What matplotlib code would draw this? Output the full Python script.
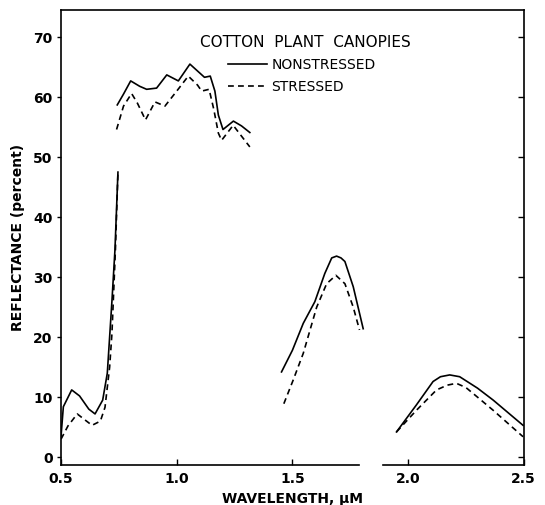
import matplotlib
matplotlib.use("Agg")
import matplotlib.pyplot as plt

# Visible band (0.5 - 0.75 um)
w_vis_ns = [0.50, 0.51, 0.546, 0.58, 0.62, 0.647, 0.68, 0.70, 0.72, 0.733, 0.746]
r_vis_ns = [3.5, 8.4, 11.2, 10.2, 8.0, 7.2, 9.5, 14.0, 26.0, 34.5, 47.5]
w_vis_s = [0.50, 0.53, 0.57, 0.60, 0.634, 0.67, 0.69, 0.71, 0.72, 0.735, 0.746]
r_vis_s = [3.0, 5.2, 7.2, 6.3, 5.3, 6.0, 8.3, 15.0, 20.6, 34.5, 47.5]

# Near-IR plateau (0.74 - 1.32 um)
w_nir_ns = [0.743, 0.77, 0.801, 0.84, 0.87, 0.913, 0.957, 1.007, 1.057, 1.10,
            1.12, 1.145, 1.165, 1.18, 1.20, 1.245, 1.28, 1.316]
r_nir_ns = [58.7, 60.5, 62.7, 61.8, 61.3, 61.5, 63.7, 62.7, 65.5, 64.0,
            63.3, 63.5, 61.0, 57.0, 54.6, 56.0, 55.2, 54.1]
w_nir_s = [0.740, 0.77, 0.805, 0.83, 0.865, 0.906, 0.949, 1.00, 1.05, 1.09,
           1.108, 1.14, 1.16, 1.18, 1.194, 1.244, 1.316]
r_nir_s = [54.6, 58.5, 60.6, 59.0, 56.2, 59.2, 58.5, 61.0, 63.5, 62.0,
           61.0, 61.3, 58.0, 54.0, 52.8, 55.3, 51.7]

# 1.45 - 1.8 um band
w_m1_ns = [1.453, 1.50, 1.547, 1.597, 1.64, 1.67, 1.691, 1.71, 1.727, 1.763, 1.806]
r_m1_ns = [14.2, 17.8, 22.3, 25.9, 30.6, 33.2, 33.5, 33.2, 32.6, 28.4, 21.4]
w_m1_s = [1.463, 1.503, 1.547, 1.605, 1.648, 1.688, 1.727, 1.763, 1.79]
r_m1_s = [8.9, 12.8, 17.3, 25.0, 28.9, 30.3, 28.9, 25.0, 21.2]

# 1.95 - 2.5 um band
w_m2_ns = [1.95, 2.036, 2.108, 2.14, 2.18, 2.223, 2.30, 2.368, 2.497]
r_m2_ns = [4.2, 8.7, 12.6, 13.4, 13.7, 13.4, 11.5, 9.5, 5.3]
w_m2_s = [1.95, 2.036, 2.123, 2.17, 2.209, 2.25, 2.30, 2.368, 2.497]
r_m2_s = [4.2, 7.8, 11.2, 12.0, 12.3, 11.6, 10.0, 7.8, 3.4]

nonstressed = [(w_vis_ns, r_vis_ns), (w_nir_ns, r_nir_ns), (w_m1_ns, r_m1_ns), (w_m2_ns, r_m2_ns)]
stressed = [(w_vis_s, r_vis_s), (w_nir_s, r_nir_s), (w_m1_s, r_m1_s), (w_m2_s, r_m2_s)]

x_ticks = [0.5, 1.0, 1.5, 2.0, 2.5]
x_tick_labels = ["0.5", "1.0", "1.5", "2.0", "2.5"]
y_ticks = [0, 10, 20, 30, 40, 50, 60, 70]
y_lim = (-1.33, 74.5)

plt.rcParams['font.family'] = ['DejaVu Sans']

fig = plt.figure(figsize=(5.45, 5.05), dpi=100)
ax = fig.add_axes([0.112, 0.079, 0.849, 0.901])

lw = 1.2
for i, (w, r) in enumerate(nonstressed):
    ax.plot(w, r, color='black', linewidth=lw, linestyle='-',
            label="NONSTRESSED" if i == 0 else None)
for i, (w, r) in enumerate(stressed):
    ax.plot(w, r, color='black', linewidth=lw, linestyle=(0, (3.5, 2.5)),
            label="STRESSED" if i == 0 else None)

ax.set_xlim(0.5, 2.5)
ax.set_ylim(*y_lim)

# broken bottom axis
ax.spines['bottom'].set_visible(False)
trans = ax.get_xaxis_transform()
ax.plot([0.5, 1.79], [0, 0], color='black', linewidth=1.2, transform=trans, clip_on=False)
ax.plot([1.89, 2.5], [0, 0], color='black', linewidth=1.2, transform=trans, clip_on=False)
for s in ['left', 'right', 'top']:
    ax.spines[s].set_linewidth(1.2)

ax.set_xticks(x_ticks)
ax.set_xticklabels(x_tick_labels, fontsize=10, fontweight='bold')
ax.set_yticks(y_ticks)
ax.set_yticklabels([str(v) for v in y_ticks], fontsize=10, fontweight='bold')
ax.tick_params(axis='x', direction='in', length=4, width=1, pad=5, top=False)
ax.tick_params(axis='y', direction='out', length=3, width=1, pad=3, right=False)

# right side ticks point inward, no labels
ax_r = ax.twinx()
ax_r.set_ylim(*y_lim)
ax_r.set_yticks(y_ticks)
ax_r.tick_params(axis='y', direction='in', length=4, width=1, labelright=False)
for s in ax_r.spines.values():
    s.set_visible(False)

ax.set_xlabel("WAVELENGTH, \u03bcM", fontsize=10, fontweight='bold', labelpad=4)
ax.set_ylabel("REFLECTANCE (percent)", fontsize=10, fontweight='bold', labelpad=6)

ax.text(0.300, 0.928, "COTTON  PLANT  CANOPIES", transform=ax.transAxes,
        fontsize=11, ha='left', va='center')
ax.legend(loc='upper left', bbox_to_anchor=(0.360, 0.895), frameon=False,
          fontsize=10, handlelength=2.8, handletextpad=0.35, labelspacing=0.6,
          borderpad=0, borderaxespad=0)

plt.savefig("out.png", dpi=100)
